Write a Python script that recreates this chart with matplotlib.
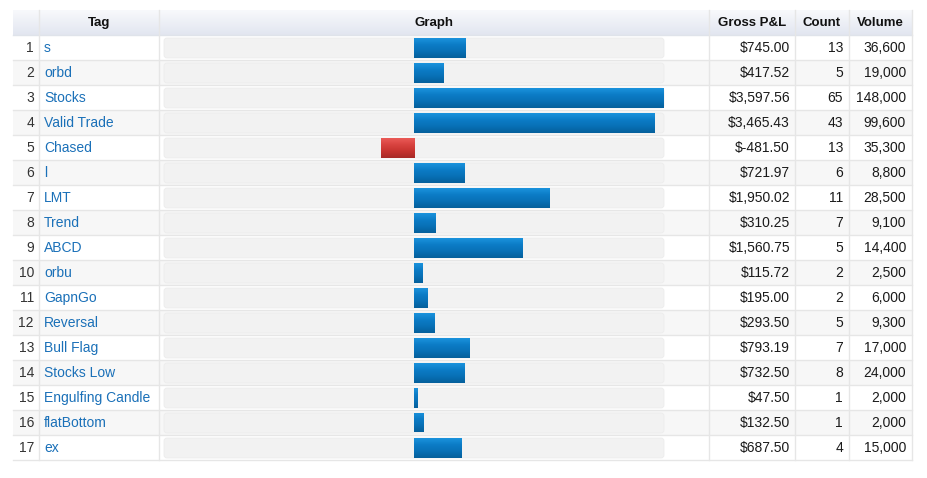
import numpy as np
import matplotlib.pyplot as plt
from matplotlib.patches import FancyBboxPatch, Rectangle
from matplotlib.colors import LinearSegmentedColormap

tags = ["s", "orbd", "Stocks", "Valid Trade", "Chased", "l", "LMT", "Trend",
        "ABCD", "orbu", "GapnGo", "Reversal", "Bull Flag", "Stocks Low",
        "Engulfing Candle", "flatBottom", "ex"]
gross_pnl = [745.00, 417.52, 3597.56, 3465.43, -481.50, 721.97, 1950.02, 310.25,
             1560.75, 115.72, 195.00, 293.50, 793.19, 732.50, 47.50, 132.50, 687.50]
counts = [13, 5, 65, 43, 13, 6, 11, 7, 5, 2, 2, 5, 7, 8, 1, 1, 4]
volumes = [36600, 19000, 148000, 99600, 35300, 8800, 28500, 9100, 14400, 2500,
           6000, 9300, 17000, 24000, 2000, 2000, 15000]
headers = ["Tag", "Graph", "Gross P&L", "Count", "Volume"]

plt.rcParams['font.family'] = ['Liberation Sans', 'DejaVu Sans']

W, H = 927, 478
fig = plt.figure(figsize=(W / 100, H / 100), dpi=100)
bg = fig.add_axes([0, 0, 1, 1])
bg.set_xlim(0, W)
bg.set_ylim(H, 0)
bg.axis('off')

# table geometry (pixels)
left, right = 13, 912
head_top, row0, row_h = 10, 35, 25
n = len(tags)
bottom = row0 + n * row_h
col_lines = [39, 159, 709, 795, 849]
grid = '#e6e6e6'

# header gradient
hgrad = LinearSegmentedColormap.from_list('h', ['#f8f9fc', '#e2e6f0'])
bg.imshow(np.linspace(0, 1, 50).reshape(-1, 1), cmap=hgrad, aspect='auto',
          extent=[left, right, row0, head_top], zorder=0)

# row stripes
for i in range(n):
    y0 = row0 + i * row_h
    fc = '#f7f7f7' if i % 2 == 1 else 'white'
    bg.add_patch(Rectangle((left, y0), right - left, row_h, fc=fc, ec='none', zorder=0))
    bg.plot([left, right], [y0 + row_h, y0 + row_h], color=grid, lw=1, zorder=1)
bg.plot([left, right], [row0, row0], color='#dfe3ea', lw=1, zorder=1)
for x in col_lines + [right]:
    bg.plot([x, x], [head_top, bottom], color=grid, lw=1, zorder=1)

# graph tracks
tr_l, tr_r = 164, 664
for i in range(n):
    y0 = row0 + i * row_h + 3
    bg.add_patch(FancyBboxPatch((tr_l, y0), tr_r - tr_l, row_h - 5,
                                boxstyle='round,pad=0,rounding_size=3',
                                fc='#f2f2f2', ec='#ececec', lw=0.6, zorder=1))

# header text
hx = [99, 434, 752, 822, 880]
for x, h in zip(hx, headers):
    bg.text(x, (head_top + row0) / 2 + 0.5, h, ha='center', va='center',
            fontsize=9.5, fontweight='bold', color='#111111', zorder=3)

fmt_money = lambda v: f"${v:,.2f}"
fs = 10
for i in range(n):
    yc = row0 + (i + 0.5) * row_h + 0.5
    bg.text(34, yc, str(i + 1), ha='right', va='center', fontsize=fs, color='#333333')
    bg.text(44, yc, tags[i], ha='left', va='center', fontsize=fs, color='#1a70b8')
    bg.text(790, yc, fmt_money(gross_pnl[i]), ha='right', va='center', fontsize=fs, color='#1a1a1a')
    bg.text(843, yc, str(counts[i]), ha='right', va='center', fontsize=fs, color='#1a1a1a')
    bg.text(906, yc, f"{volumes[i]:,}", ha='right', va='center', fontsize=fs, color='#1a1a1a')

# bar graph
M = max(abs(v) for v in gross_pnl)
gax = fig.add_axes([tr_l / W, (H - bottom) / H, (tr_r - tr_l) / W, (n * row_h) / H])
gax.patch.set_alpha(0)
gax.axis('off')
ypos = np.arange(1, n + 1)
bars = gax.barh(ypos, gross_pnl, height=0.8, color='none', ec='none')
blue = LinearSegmentedColormap.from_list('b', ['#1a92dc', '#0c7cc6', '#0870b6', '#05609c'])
red = LinearSegmentedColormap.from_list('r', ['#ea5a57', '#d8433f', '#c6332f', '#a82a27'])
grad = np.linspace(0, 1, 40).reshape(-1, 1)
for b, v in zip(bars, gross_pnl):
    x0, w = b.get_x(), b.get_width()
    y0, h = b.get_y(), b.get_height()
    im = gax.imshow(grad, cmap=blue if v >= 0 else red, aspect='auto',
                    extent=[x0, x0 + w, y0 + h, y0], zorder=2)
    im.set_clip_path(b)
gax.set_xlim(-M, M)
gax.set_ylim(n + 0.5, 0.5)

fig.savefig('out.png', dpi=100)
